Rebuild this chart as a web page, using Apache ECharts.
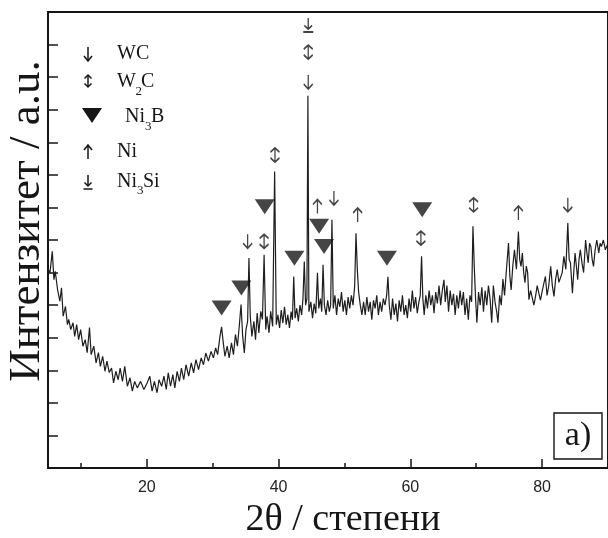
<!DOCTYPE html>
<html>
<head>
<meta charset="utf-8">
<script src="https://cdn.jsdelivr.net/npm/echarts@6/dist/echarts.min.js"></script>
<style>
  html, body { margin: 0; padding: 0; background: #fff; }
  #chart { width: 608px; height: 538px; }
</style>
</head>
<body>
<div id="chart"></div>
<script>
// XRD pattern: [2θ in degrees, intensity in arbitrary units]
const pattern = [
  [5.0,610],[5.3,600],[5.65,665],[5.9,578],[6.1,604],[6.45,548],[6.8,512],[7.05,553],[7.3,466],[7.65,496],
  [7.95,440],[8.15,456],[8.45,425],[8.8,446],[9.05,404],[9.35,440],[9.65,394],[9.95,425],[10.3,374],[10.65,394],
  [10.95,354],[11.3,431],[11.55,348],[11.95,374],[12.3,323],[12.65,354],[12.95,312],[13.3,343],[13.65,297],[13.95,328],
  [14.3,293],[14.65,307],[14.95,261],[15.3,297],[15.65,271],[15.95,307],[16.3,266],[16.65,312],[17.05,251],[17.45,277],
  [17.8,236],[18.15,266],[18.55,246],[19.05,266],[19.55,241],[20.05,261],[20.45,282],[20.8,236],[21.15,266],[21.55,231],
  [21.85,271],[22.25,251],[22.6,282],[22.95,241],[23.25,292],[23.6,251],[23.95,287],[24.25,246],[24.6,297],[24.95,266],
  [25.25,307],[25.6,271],[25.95,317],[26.35,282],[26.75,323],[27.1,292],[27.45,333],[27.85,302],[28.25,338],[28.6,317],
  [28.95,353],[29.35,328],[29.75,358],[30.1,338],[30.45,369],[30.75,348],[31.1,404],[31.35,433],[31.55,394],[31.85,343],
  [32.2,374],[32.5,338],[32.85,384],[33.15,348],[33.45,410],[33.75,374],[34.05,440],[34.3,502],[34.55,404],[34.8,353],
  [35.05,425],[35.3,450],[35.5,645],[35.7,466],[35.95,404],[36.25,450],[36.5,394],[36.75,476],[37.0,415],[37.3,481],
  [37.55,456],[37.8,655],[38.05,425],[38.25,466],[38.55,415],[38.8,481],[39.1,435],[39.4,910],[39.65,440],[39.9,470],
  [40.15,430],[40.4,485],[40.65,445],[40.9,495],[41.15,440],[41.4,470],[41.65,430],[41.9,480],[42.1,455],[42.3,588],
  [42.5,460],[42.75,490],[43.0,450],[43.25,500],[43.5,470],[43.7,520],[43.9,634],[44.1,500],[44.3,520],[44.45,1143],
  [44.6,480],[44.9,510],[45.15,460],[45.4,505],[45.65,475],[45.9,599],[46.1,490],[46.35,520],[46.55,480],[46.75,624],
  [46.95,500],[47.2,470],[47.45,515],[47.7,480],[47.9,500],[48.1,762],[48.3,490],[48.55,530],[48.8,470],[49.05,520],
  [49.3,495],[49.55,540],[49.8,480],[50.05,515],[50.3,470],[50.55,525],[50.8,490],[51.05,530],[51.3,500],[51.55,560],
  [51.75,721],[51.95,609],[52.15,540],[52.4,500],[52.65,470],[52.9,510],[53.15,470],[53.4,525],[53.65,480],[53.9,510],
  [54.15,455],[54.4,515],[54.65,490],[54.9,530],[55.15,470],[55.4,510],[55.65,480],[55.9,520],[56.15,500],[56.4,530],
  [56.6,587],[56.8,500],[57.05,455],[57.3,520],[57.55,470],[57.8,505],[58.05,450],[58.3,515],[58.55,480],[58.8,530],
  [59.05,470],[59.3,500],[59.55,460],[59.8,520],[60.05,480],[60.3,545],[60.55,490],[60.8,525],[61.05,475],[61.3,510],
  [61.5,530],[61.7,650],[61.9,520],[62.1,470],[62.35,530],[62.6,490],[62.85,545],[63.1,500],[63.35,530],[63.6,475],
  [63.85,540],[64.1,505],[64.35,560],[64.6,500],[64.85,545],[65.1,578],[65.3,510],[65.55,560],[65.8,480],[66.05,545],
  [66.3,500],[66.55,535],[66.8,470],[67.05,530],[67.3,490],[67.55,545],[67.8,500],[68.05,540],[68.3,470],[68.55,520],
  [68.8,455],[69.05,530],[69.3,510],[69.5,742],[69.7,619],[69.9,520],[70.1,446],[70.35,540],[70.6,500],[70.85,555],
  [71.1,480],[71.35,545],[71.6,500],[71.85,560],[72.1,520],[72.35,446],[72.6,560],[72.85,510],[73.1,480],[73.3,446],
  [73.55,530],[73.8,500],[74.05,580],[74.3,530],[74.55,600],[74.9,691],[75.1,590],[75.3,547],[75.55,620],[75.8,670],
  [76.1,610],[76.4,726],[76.6,640],[76.8,619],[77.0,660],[77.2,600],[77.4,569],[77.6,620],[77.8,600],[78.0,517],
  [78.25,545],[78.5,547],[78.75,500],[79.0,527],[79.25,560],[79.5,558],[79.75,515],[80.0,542],[80.25,565],[80.5,588],
  [80.75,530],[81.0,558],[81.3,619],[81.55,560],[81.8,527],[82.05,580],[82.3,609],[82.55,570],[82.8,568],[83.05,600],
  [83.3,650],[83.6,610],[83.9,752],[84.1,640],[84.3,630],[84.6,537],[84.8,600],[85.0,660],[85.2,620],[85.4,578],
  [85.6,640],[85.8,670],[86.05,630],[86.3,600],[86.6,700],[86.8,660],[87.0,630],[87.2,690],[87.4,680],[87.6,640],
  [87.8,619],[88.05,670],[88.3,700],[88.6,660],[88.8,690],[89.0,680],[89.3,700],[89.6,670],[90.0,690]
];

// Phase markers placed above the reflections: [2θ, height]
const wcMarks    = [[35.3,696],[44.5,1185],[48.4,829],[83.9,808]];
const w2cMarks   = [[37.8,696],[39.45,961],[44.5,1277],[61.6,706],[69.6,808]];
const ni3bMarks  = [[31.35,491],[34.35,553],[37.9,802],[42.4,644],[46.15,742],[46.9,680],[56.45,644],[61.8,793]];
const niMarks    = [[45.9,803],[52.0,777],[76.4,783]];
const ni3siMarks = [[44.5,1360]];

const majorTicks = [20, 40, 60, 80];
const minorTicks = [10, 30, 50, 70, 90];

const INK = '#161616';
const SERIF = '"Liberation Serif", "Times New Roman", serif';

// glyph outlines for the phase symbols, each as a list of strokes in a 10x14 box
const G_DOWN  = [[[5,0],[5,14]], [[1,9],[5,14],[9,9]]];
const G_UP    = [[[5,14],[5,0]], [[1,5],[5,0],[9,5]]];
const G_BOTH  = [[[5,1],[5,13]], [[1.5,4.5],[5,1],[8.5,4.5]], [[1.5,9.5],[5,13],[8.5,9.5]]];
const G_TOBAR = [[[5,0],[5,11]], [[1.5,7.5],[5,11],[8.5,7.5]], [[0.5,14],[9.5,14]]];

function toPath(strokes) {
  return strokes.map(function (s) {
    return s.map(function (p, i) { return (i ? 'L' : 'M') + p[0] + ',' + p[1]; }).join('');
  }).join('');
}
const P_TRI = 'M0,0L20,0L10,15Z';

function arrowSeries(data, glyph, size) {
  return {
    type: 'scatter', data: data, symbol: 'path://' + toPath(glyph), symbolSize: size,
    symbolKeepAspect: false, silent: true, z: 5,
    itemStyle: { color: 'rgba(0,0,0,0)', borderColor: INK, borderWidth: 1.6 }
  };
}

const graphics = [];

// legend symbols
function legendGlyph(glyph, cx, cy) {
  glyph.forEach(function (s) {
    graphics.push({
      type: 'polyline', z: 10,
      shape: { points: s.map(function (p) { return [cx - 5 + p[0], cy - 7 + p[1]]; }) },
      style: { fill: null, stroke: INK, lineWidth: 1.5 }
    });
  });
}
legendGlyph(G_DOWN, 88, 54);
legendGlyph(G_BOTH, 88, 81);
legendGlyph(G_UP, 88, 152);
legendGlyph(G_TOBAR, 88, 182);
graphics.push({
  type: 'polygon', z: 10,
  shape: { points: [[82, 108], [102, 108], [92, 123]] },
  style: { fill: INK, stroke: null }
});

function txt(x, y, s, size) {
  return {
    type: 'text', x: x, y: y, z: 10,
    style: { text: s, font: size + 'px ' + SERIF, fill: INK, align: 'left', verticalAlign: 'middle' }
  };
}

// legend labels with subscripts
graphics.push(txt(117, 54, 'WC', 20));
graphics.push(txt(117, 82, 'W', 20));
graphics.push(txt(135.5, 92, '2', 13));
graphics.push(txt(141, 82, 'C', 20));
graphics.push(txt(125, 117, 'Ni', 20));
graphics.push(txt(145, 127, '3', 13));
graphics.push(txt(151, 117, 'B', 20));
graphics.push(txt(117, 152, 'Ni', 20));
graphics.push(txt(117, 182, 'Ni', 20));
graphics.push(txt(137, 191, '3', 13));
graphics.push(txt(143, 182, 'Si', 20));

// axis titles
graphics.push({
  type: 'text', x: 27, y: 221, rotation: Math.PI / 2, z: 10,
  style: { text: 'Интензитет / a.u.', font: '45px ' + SERIF, fill: INK, align: 'center', verticalAlign: 'middle' }
});
graphics.push({
  type: 'text', x: 343, y: 520, z: 10,
  style: { text: '2θ / степени', font: '38px ' + SERIF, fill: INK, align: 'center', verticalAlign: 'middle' }
});

// panel tag
graphics.push({
  type: 'rect', shape: { x: 554, y: 413, width: 48, height: 46 }, z: 10,
  style: { fill: '#fff', stroke: INK, lineWidth: 1.4 }
});
graphics.push({
  type: 'text', x: 578, y: 436, z: 11,
  style: { text: 'a)', font: '34px ' + SERIF, fill: INK, align: 'center', verticalAlign: 'middle' }
});

const axisLine = { lineStyle: { color: INK, width: 2 } };

const option = {
  animation: false,
  grid: { left: 48, top: 12, right: -5, bottom: 70, show: true, borderColor: INK, borderWidth: 2, backgroundColor: 'rgba(0,0,0,0)' },
  xAxis: [{
    type: 'value', min: 5, max: 90, position: 'bottom',
    axisLine: axisLine,
    axisTick: { inside: true, length: 9, customValues: majorTicks, lineStyle: { color: INK, width: 1.5 } },
    axisLabel: { customValues: majorTicks, color: '#222', fontFamily: '"Liberation Sans", Arial, sans-serif', fontSize: 16, margin: 12 },
    splitLine: { show: false }
  }, {
    type: 'value', min: 5, max: 90, position: 'bottom',
    axisLine: { show: false },
    axisTick: { inside: true, length: 5, customValues: minorTicks, lineStyle: { color: INK, width: 1.5 } },
    axisLabel: { show: false },
    splitLine: { show: false }
  }],
  yAxis: {
    type: 'value', min: 0, max: 1400, interval: 100,
    axisLine: { show: true, lineStyle: { color: INK, width: 2 } },
    axisTick: { show: true, inside: true, length: 10, lineStyle: { color: INK, width: 1.5 } },
    axisLabel: { show: false },
    splitLine: { show: false }
  },
  graphic: graphics,
  series: [
    {
      type: 'line', data: pattern, showSymbol: false, symbol: 'none', silent: true,
      lineStyle: { color: '#1e1e1e', width: 1.2 }, z: 3
    },
    arrowSeries(wcMarks, G_DOWN, [9, 14]),
    arrowSeries(w2cMarks, G_BOTH, [9, 14]),
    arrowSeries(niMarks, G_UP, [9, 14]),
    arrowSeries(ni3siMarks, G_TOBAR, [10, 14]),
    {
      type: 'scatter', data: ni3bMarks, symbol: 'path://' + P_TRI, symbolSize: [20, 15],
      symbolKeepAspect: false, silent: true, z: 5, itemStyle: { color: INK }
    }
  ]
};

const chart = echarts.init(document.getElementById('chart'), null, { renderer: 'canvas' });
chart.setOption(option);
</script>
</body>
</html>
